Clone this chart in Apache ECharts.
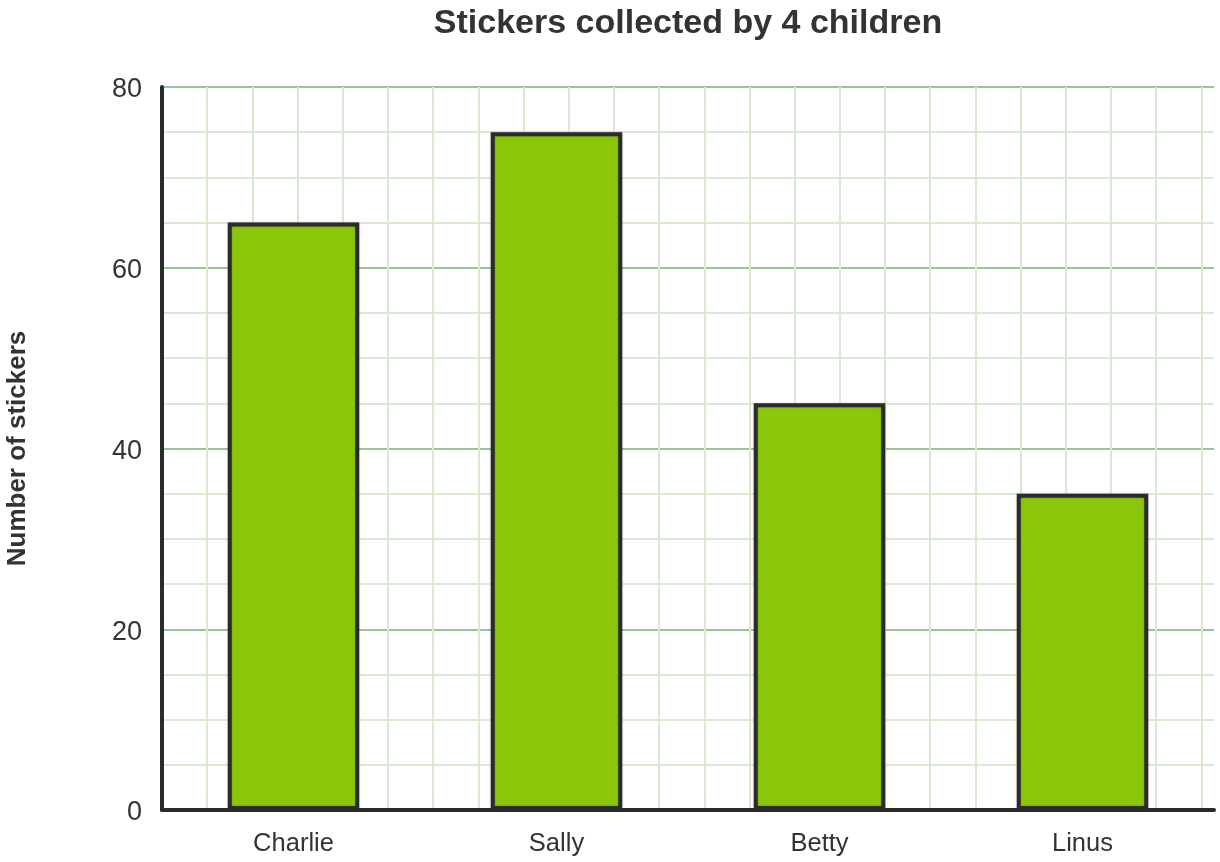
<!DOCTYPE html>
<html>
<head>
<meta charset="utf-8">
<script src="https://cdn.jsdelivr.net/npm/echarts@6/dist/echarts.min.js"></script>
<style>
html,body{margin:0;padding:0;background:#fff;}
#chart{width:1220px;height:862px;}
</style>
</head>
<body>
<div id="chart"></div>
<script>
const titleText = 'Stickers collected by 4 children';
const yAxisName = 'Number of stickers';
const categories = ['Charlie', 'Sally', 'Betty', 'Linus'];
const stickers = [65, 75, 45, 35];
const yMin = 0, yMax = 80, yStep = 5;

const FONT = '"Liberation Sans", Arial, sans-serif';
const gridLeft = 162, gridRight = 6, gridTop = 87, gridBottom = 52;
const plotW = 1220 - gridLeft - gridRight;
const plotH = 862 - gridTop - gridBottom;
const cellPx = plotH / ((yMax - yMin) / yStep);
const vCells = plotW / cellPx;

const major = '#9ec29e';
const minor = '#d9ead2';

const chart = echarts.init(document.getElementById('chart'));
chart.setOption({
  animation: false,
  backgroundColor: '#fff',
  title: {
    text: titleText,
    left: gridLeft + plotW / 2 - 5,
    textAlign: 'center',
    top: 2,
    textStyle: { fontFamily: FONT, fontSize: 34, fontWeight: 'bold', color: '#333' }
  },
  grid: { left: gridLeft, right: gridRight, top: gridTop, bottom: gridBottom, containLabel: false, outerBoundsMode: 'none' },
  xAxis: [{
    type: 'category',
    data: categories,
    axisLine: { show: true, lineStyle: { color: '#2b2b2b', width: 4 } },
    axisTick: { show: false },
    axisLabel: { fontFamily: FONT, fontSize: 25.5, color: '#333', margin: 21 },
    splitLine: { show: false }
  }, {
    type: 'value',
    position: 'top',
    min: 0,
    max: vCells,
    interval: 1,
    axisLine: { show: false },
    axisTick: { show: false },
    axisLabel: { show: false },
    splitLine: { show: true, showMinLine: false, showMaxLine: false, lineStyle: { color: minor, width: 2 } }
  }],
  yAxis: {
    type: 'value',
    min: yMin,
    max: yMax,
    interval: yStep,
    name: yAxisName,
    nameLocation: 'middle',
    nameRotate: 90,
    nameGap: 131,
    nameTextStyle: { fontFamily: FONT, fontSize: 26, fontWeight: 'bold', color: '#333' },
    axisLine: { show: true, lineStyle: { color: '#2b2b2b', width: 4 } },
    axisTick: { show: false },
    axisLabel: {
      fontFamily: FONT, fontSize: 27, color: '#333', margin: 20,
      formatter: v => (v % 20 === 0 ? '{a|' + v + '}' : ''),
      rich: { a: { fontFamily: FONT, fontSize: 27, color: '#333', padding: [6, 0, 0, 0] } }
    },
    splitLine: { show: true, lineStyle: { color: [major, minor, minor, minor], width: 2 } }
  },
  series: [{
    type: 'bar',
    data: stickers,
    barWidth: '50%',
    z: 3,
    itemStyle: {
      color: '#8bc709',
      borderColor: '#2b2b2b',
      borderWidth: 4,
      shadowColor: 'rgba(0,0,0,0.25)',
      shadowBlur: 2
    }
  }]
});
</script>
</body>
</html>
